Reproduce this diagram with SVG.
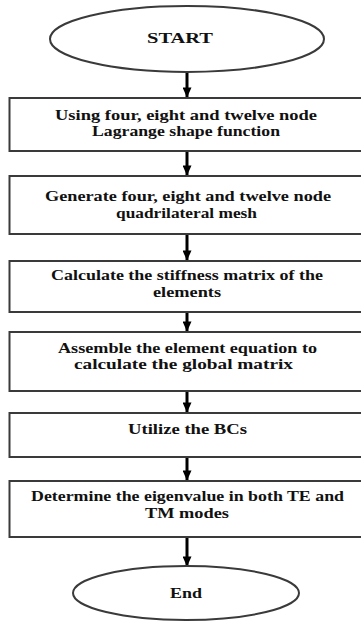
<svg xmlns="http://www.w3.org/2000/svg" width="361" height="622" viewBox="0 0 361 622">
<defs>
<style>
.shape{fill:#fff;stroke:#3a3a3a;stroke-width:2}
.t{font-family:'Liberation Serif','DejaVu Serif','Times New Roman',serif;font-weight:bold;font-size:15.5px;fill:#111;text-anchor:middle}
.c{stroke:#000;stroke-width:3;fill:none}
</style>
<marker id="ah" markerWidth="4" markerHeight="3" refX="3.2" refY="1.5" orient="auto" markerUnits="strokeWidth">
<path d="M0,0 L3.4,1.5 L0,3 z" fill="#000"/>
</marker>
</defs>
<rect width="361" height="622" fill="#fff"/>
<g id="connectors">
<line class="c" x1="187" y1="72" x2="187" y2="97" marker-end="url(#ah)"/>
<line class="c" x1="187" y1="152" x2="187" y2="175" marker-end="url(#ah)"/>
<line class="c" x1="187" y1="234" x2="187" y2="260" marker-end="url(#ah)"/>
<line class="c" x1="187" y1="312" x2="187" y2="331" marker-end="url(#ah)"/>
<line class="c" x1="187" y1="391" x2="187" y2="412" marker-end="url(#ah)"/>
<line class="c" x1="187" y1="457" x2="187" y2="480" marker-end="url(#ah)"/>
<line class="c" x1="187" y1="537" x2="187" y2="566" marker-end="url(#ah)"/>
</g>
<g id="start">
<ellipse class="shape" cx="187" cy="39" rx="137" ry="33"/>
<text class="t" x="180" y="43" textLength="66" lengthAdjust="spacingAndGlyphs">START</text>
</g>
<g id="step1">
<rect class="shape" x="9.5" y="98" width="360" height="53"/>
<text class="t" x="186" y="120" textLength="262" lengthAdjust="spacingAndGlyphs">Using four, eight and twelve node</text>
<text class="t" x="186" y="136" textLength="188" lengthAdjust="spacingAndGlyphs">Lagrange shape function</text>
</g>
<g id="step2">
<rect class="shape" x="9.5" y="176" width="360" height="58"/>
<text class="t" x="188" y="201" textLength="286" lengthAdjust="spacingAndGlyphs">Generate four, eight and twelve node</text>
<text class="t" x="186.5" y="218" textLength="141" lengthAdjust="spacingAndGlyphs">quadrilateral mesh</text>
</g>
<g id="step3">
<rect class="shape" x="9.5" y="261" width="360" height="51"/>
<text class="t" x="187" y="280" textLength="272" lengthAdjust="spacingAndGlyphs">Calculate the stiffness matrix of the</text>
<text class="t" x="187" y="297" textLength="68" lengthAdjust="spacingAndGlyphs">elements</text>
</g>
<g id="step4">
<rect class="shape" x="9.5" y="332" width="360" height="59"/>
<text class="t" x="187.5" y="353" textLength="259" lengthAdjust="spacingAndGlyphs">Assemble the element equation to</text>
<text class="t" x="183.5" y="369" textLength="219" lengthAdjust="spacingAndGlyphs">calculate the global matrix</text>
</g>
<g id="step5">
<rect class="shape" x="9.5" y="413" width="360" height="44"/>
<text class="t" x="187.5" y="434" textLength="119" lengthAdjust="spacingAndGlyphs">Utilize the BCs</text>
</g>
<g id="step6">
<rect class="shape" x="9.5" y="481" width="360" height="56"/>
<text class="t" x="187.5" y="501" textLength="313" lengthAdjust="spacingAndGlyphs">Determine the eigenvalue in both TE and</text>
<text class="t" x="187" y="517.5" textLength="84" lengthAdjust="spacingAndGlyphs">TM modes</text>
</g>
<g id="end">
<ellipse class="shape" cx="186" cy="593" rx="113" ry="27"/>
<text class="t" x="186" y="598" textLength="32" lengthAdjust="spacingAndGlyphs">End</text>
</g>
</svg>
